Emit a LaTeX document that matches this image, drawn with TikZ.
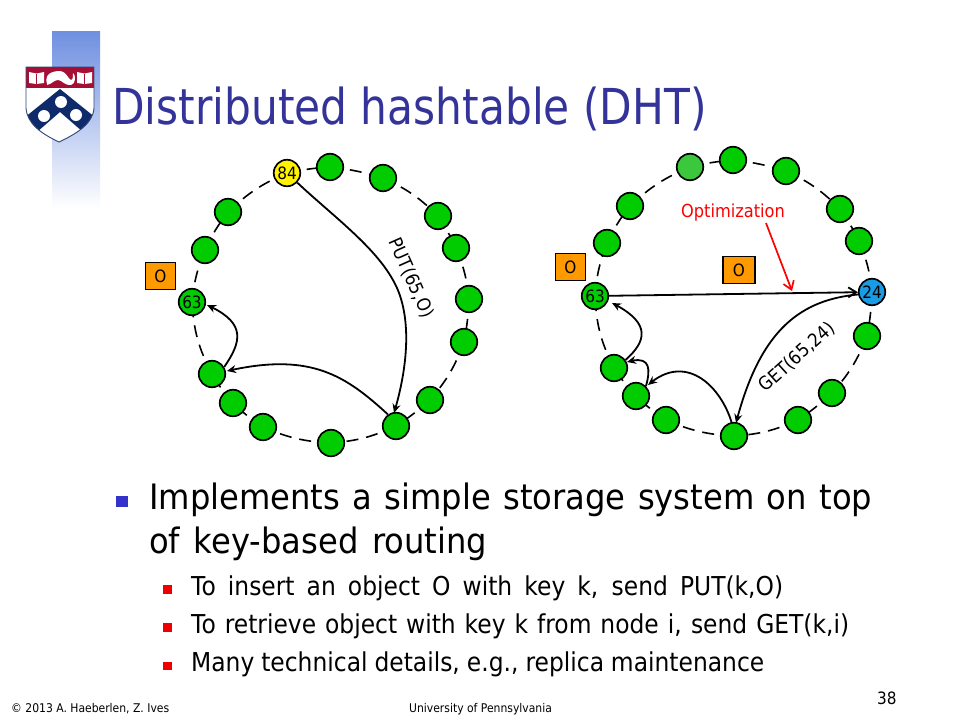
\documentclass[tikz,border=0pt]{standalone}
\usepackage{fontspec}
\setmainfont{DejaVu Sans}[FakeStretch=0.9]
\newfontfamily\titlefont{DejaVu Sans}[FakeStretch=0.855]
\newfontfamily\leadfont{DejaVu Sans}[FakeStretch=0.92]
\usetikzlibrary{arrows.meta,bending}
\definecolor{nodegreen}{HTML}{00CC00}
\definecolor{lightgreen}{HTML}{3CC83C}
\definecolor{keyblue}{HTML}{1A9CE5}
\definecolor{titleblue}{HTML}{333399}
\definecolor{boxorange}{HTML}{FF9900}
\definecolor{penred}{HTML}{A50E35}
\definecolor{pennavy}{HTML}{0F2A6B}
\definecolor{bulletred}{HTML}{EE0000}
\definecolor{bulletblue}{HTML}{3333CC}
\definecolor{bartop}{HTML}{6F8FE0}
\definecolor{barmid}{HTML}{AABBEE}
\tikzset{
  dhtnode/.style={circle,draw=black,line width=1.7pt,fill=nodegreen,minimum size=26.5pt,inner sep=0pt,font=\fontsize{17}{17}\selectfont},
  objbox/.style={draw=black,line width=1.7pt,fill=boxorange,minimum width=30pt,minimum height=27pt,inner sep=0pt,font=\fontsize{17}{17}\selectfont},
  ringlink/.style={draw=black,line width=1.6pt,dash pattern=on 12pt off 8pt},
  hop/.style={draw=black,line width=1.8pt,-{Stealth[length=9pt,width=8pt]}},
  txt/.style={inner sep=0pt,anchor=base west},
  l1/.style={txt,font=\leadfont\fontsize{35}{35}\selectfont},
  l2/.style={txt,font=\fontsize{26}{26}\selectfont},
  foot/.style={txt,font=\fontsize{12}{12}\selectfont},
  edgelab/.style={font=\fontsize{18.5}{18.5}\selectfont},
}
\begin{document}
\begin{tikzpicture}[x=1pt,y=-1pt]
\useasboundingbox (0,0) rectangle (960,720);
\fill[white] (0,0) rectangle (960,720);
\shade[top color=bartop,middle color=barmid,bottom color=white] (52,31) rectangle (100,208);
% shield
\def\shieldpath{(26,67) -- (94,67) -- (94,108) .. controls (93,124) and (76,134) .. (59,142) .. controls (42,134) and (27,124) .. (26,108) -- cycle}
\fill[white] \shieldpath;
\begin{scope}
\clip \shieldpath;
\fill[penred] (26,67) rectangle (94,88);
\fill[pennavy] (60,89) -- (96,118) -- (83,132) -- (60,112) -- (37,132) -- (24,118) -- cycle;
\end{scope}
\fill[white] (61,102) circle (6) (44,116) circle (6) (76,115) circle (6);
\draw[pennavy!70!gray,line width=.9pt] \shieldpath;
\fill[white] (29,72) -- (36.5,73.5) -- (44,72) -- (44,83) -- (36.5,84) -- (29,83) -- cycle;
\fill[white] (77,72) -- (84.5,73.5) -- (92,72) -- (92,83) -- (84.5,84) -- (77,83) -- cycle;
\draw[penred,line width=.7pt] (36.5,73.5) -- (36.5,84) (84.5,73.5) -- (84.5,84);
\fill[white] (47,84) .. controls (44,74) and (52,71) .. (60,71) .. controls (67,72) and (68,79) .. (71,80) .. controls (73,80) and (73,76) .. (73,73) .. controls (76,75) and (76,84) .. (71,85) .. controls (65,86) and (62,80) .. (58,80) .. controls (54,80) and (52,84) .. (47,85) -- cycle;
% title
\node[txt,text=titleblue,font=\titlefont\fontsize{49.5}{50}\selectfont] (title) at (112,124) {Distributed hashtable (DHT)};
% left ring
\foreach \n/\p in {a/{287,173},b/{330,167},c/{383,178},d/{438,216},e/{456,248},f/{469,299},g/{464,342},h/{430,400},i/{396,426},j/{331,443},k/{263,427},l/{233,403},m/{212,374},n/{192,302},o/{205,250},p/{228,212}}{
  \coordinate (L\n) at (\p);
}
\foreach \s/\t/\b in {a/b/4,b/c/5,c/d/10,d/e/4,e/f/8,f/g/4,g/h/10,h/i/4,i/j/10,j/k/10,k/l/5,l/m/5,m/n/12,n/o/8,o/p/6,p/a/10}{
  \draw[ringlink] (L\s) to[bend left=\b] (L\t);
}
\foreach \n in {b,c,d,e,f,g,h,i,j,k,l,m,o,p}{
  \node[dhtnode] (N\n) at (L\n) {};
}
\node[dhtnode,fill=yellow] (Na) at (La) {84};
\node[dhtnode] (Nn) at (Ln) {63};
\node[objbox] (Lobj) at (160.5,276) {O};
\draw[hop] (Na) .. controls (335,218) and (380,250) .. (397,288) .. controls (412,322) and (407,370) .. (394,413);
\draw[hop] (Ni.125) .. controls (345,375) and (310,352) .. (227,371);
\draw[hop] (Nm.30) .. controls (243,340) and (245,322) .. (207,305);
\node[edgelab,rotate=-66] (putlab) at (411,278) {PUT(65,O)};
% right ring
\foreach \n/\p in {a/{690,167},b/{733,160},c/{786,171},d/{840,209},e/{859,241},f/{872,292},g/{867,336},h/{832,393},i/{798,420},j/{734,436},k/{666,420},l/{636,396},m/{614,368},n/{595,296},o/{607,243},p/{630,206}}{
  \coordinate (R\n) at (\p);
}
\foreach \s/\t/\b in {a/b/4,b/c/5,c/d/10,d/e/4,e/f/8,f/g/4,g/h/10,h/i/4,i/j/10,j/k/10,k/l/5,l/m/5,m/n/12,n/o/8,o/p/6,p/a/10}{
  \draw[ringlink] (R\s) to[bend left=\b] (R\t);
}
\foreach \n/\c in {a/lightgreen,b/nodegreen,c/nodegreen,d/nodegreen,e/nodegreen,g/nodegreen,h/nodegreen,i/nodegreen,j/nodegreen,k/nodegreen,l/nodegreen,m/nodegreen,o/nodegreen,p/nodegreen}{
  \node[dhtnode,fill=\c] (M\n) at (R\n) {};
}
\node[dhtnode,fill=keyblue] (Mf) at (Rf) {24};
\node[dhtnode] (Mn) at (Rn) {63};
\node[objbox] (Robj) at (570.5,267) {O};
\node[objbox,minimum width=32pt] (Mobj) at (739,270) {O};
\draw[hop,-{Straight Barb[length=8pt,width=10pt]}] (Mn) -- (Mf);
\draw[hop] (Mf.190) .. controls (800,300) and (760,330) .. (736,423);
\draw[hop] (Mj.100) .. controls (720,385) and (685,352) .. (648,385);
\draw[hop] (Ml.45) .. controls (651,368) and (650,355) .. (627,362);
\draw[hop] (Mm.35) .. controls (648,340) and (650,322) .. (612,303);
\node[edgelab,rotate=42] (getlab) at (797,357) {GET(65,24)};
\node[text=red,font=\fontsize{18}{18}\selectfont] (optlab) at (733,213) {Optimization};
\coordinate (optstart) at (766,223);
\coordinate (opttip) at (792,291);
\draw[red,line width=1.7pt,-{Straight Barb[length=8pt,width=11pt]}] (optstart) -- (opttip);
% body
\fill[bulletblue] (116,496) rectangle (128,507);
\node[l1] (b1) at (149,509) {\makebox[723pt][s]{Implements a simple storage system on top}};
\node[l1] (b2) at (149,553) {\makebox[338pt][s]{of key-based routing}};
\fill[bulletred] (163,585) rectangle (172,594);
\fill[bulletred] (163,623) rectangle (172,632);
\fill[bulletred] (163,662) rectangle (172,670);
\node[l2] (s1) at (191,595) {\makebox[592pt][s]{To insert an object O with key k, send PUT(k,O)}};
\node[l2] (s2) at (191,633) {\makebox[658pt][s]{To retrieve object with key k from node i, send GET(k,i)}};
\node[l2] (s3) at (191,671) {\makebox[573pt][s]{Many technical details, e.g., replica maintenance}};
\node[foot] (cr) at (11,712) {© 2013 A. Haeberlen, Z. Ives};
\node[foot] (up) at (409,712) {University of Pennsylvania};
\node[txt,font=\fontsize{17}{17}\selectfont] (pg) at (877,704) {38};
\end{tikzpicture}
\end{document}
